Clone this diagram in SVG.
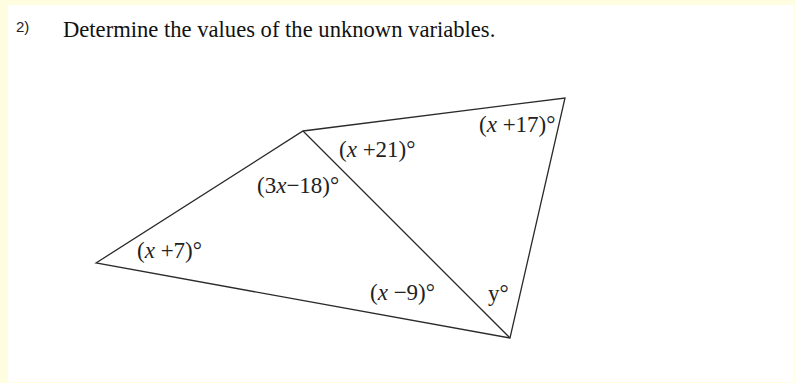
<svg xmlns="http://www.w3.org/2000/svg" width="795" height="383" viewBox="0 0 795 383">
<style>
.lbl{font-family:"Liberation Serif","Times New Roman",serif;font-size:23px;fill:#222}
.it{font-style:italic}
.edge{fill:none;stroke:#2a2a2a;stroke-width:1.3;stroke-linejoin:miter}
</style>
<rect x="0" y="0" width="795" height="383" fill="#fffde0"/>
<rect x="8" y="5" width="786" height="377" fill="#ffffff"/>
<text x="16" y="32" font-family="Liberation Sans, Arial, sans-serif" font-size="15" fill="#222">2)</text>
<text x="63" y="37" font-family="Liberation Serif, Times New Roman, serif" font-size="22.6" fill="#111">Determine the values of the unknown variables.</text>
<g id="connectors">
<polygon class="edge" points="96,263 303,131 565,98 510,338"/>
<line class="edge" x1="303" y1="131" x2="510" y2="338"/>
</g>
<g id="angle-left"><text class="lbl" x="137" y="258">(<tspan class="it">x</tspan> +7)°</text></g>
<g id="angle-top-left"><text class="lbl" x="257" y="193">(3<tspan class="it">x</tspan>−18)°</text></g>
<g id="angle-top-right"><text class="lbl" x="339" y="157">(<tspan class="it">x</tspan> +21)°</text></g>
<g id="angle-far-right"><text class="lbl" x="479" y="132">(<tspan class="it">x</tspan> +17)°</text></g>
<g id="angle-bottom-left"><text class="lbl" x="370" y="300">(<tspan class="it">x</tspan> −9)°</text></g>
<g id="angle-bottom-right"><text class="lbl" x="488" y="301">y°</text></g>
</svg>
